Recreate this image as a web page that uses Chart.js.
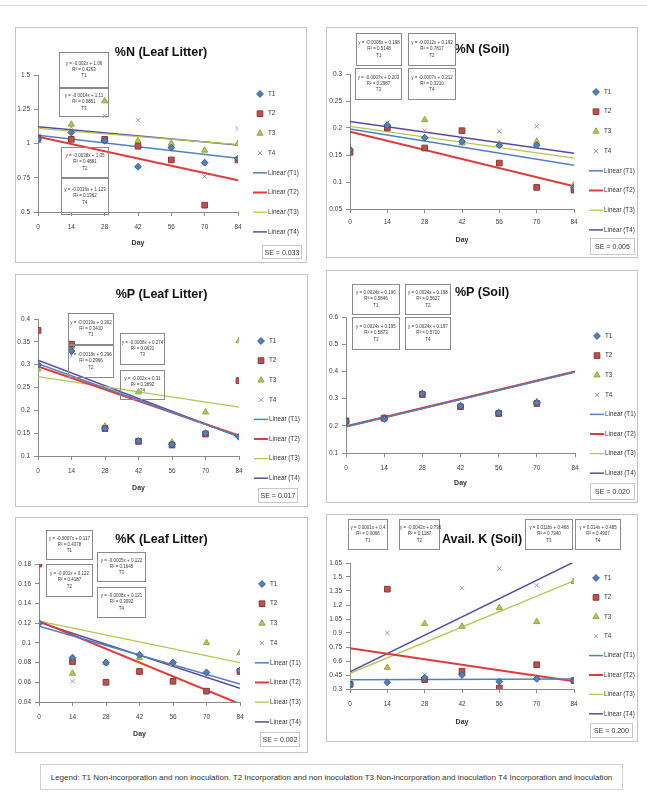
<!DOCTYPE html>
<html>
<head>
<meta charset="utf-8">
<title>Nutrient dynamics by treatment</title>
<script src="https://cdn.jsdelivr.net/npm/chart.js@4.4.1/dist/chart.umd.min.js"></script>
<style>
  html, body { margin:0; padding:0; background:#fff; }
  body { width:647px; height:801px; position:relative; overflow:hidden;
         font-family:'Liberation Sans',Arial,sans-serif; }
  .rule { position:absolute; left:0; top:5px; width:647px; height:1px; background:#dedede; }
  .panel { position:absolute; box-sizing:border-box; border:1px solid #c4c4c4; background:#fff; }
  canvas { position:absolute; }
  .eq { position:absolute; box-sizing:border-box; border:1px solid #8a8a8a; font-size:4.5px; line-height:1.35;
        color:#3a3a3a; text-align:center; display:flex; flex-direction:column; justify-content:center; white-space:nowrap; }
  .se { position:absolute; box-sizing:border-box; border:1px solid #c8c8c8; font-size:7px; color:#333;
        display:flex; align-items:center; justify-content:center; white-space:nowrap; }
  .note { position:absolute; left:40px; top:764px; width:583px; height:26px; box-sizing:border-box; border:1px solid #d0d0d0;
          font-size:8px; color:#333; display:flex; align-items:center; justify-content:center; white-space:nowrap; }
</style>
</head>
<body>
<div class="rule"></div>
<div id="fig"></div>
<div class="note" id="note"></div>
<script>
const FONT = "'Liberation Sans', Arial, sans-serif";

// sampling days shared by every panel
const days = [0, 14, 28, 42, 56, 70, 84];
const seriesNames = ['T1', 'T2', 'T3', 'T4'];

// %N (Leaf Litter)
const nLeafT1 = [1.03, 1.08, 1.02, 0.83, 0.97, 0.86, 0.89];
const nLeafT2 = [1.04, 1.03, 1.03, 0.98, 0.88, 0.55, 0.88];
const nLeafT3 = [1.02, 1.14, 1.31, 1.02, 1.00, 0.95, 1.00];
const nLeafT4 = [1.05, 1.12, 1.20, 1.17, 1.00, 0.76, 1.11];
const nLeafSlope = [-0.002, -0.0038, -0.0014, -0.0016];
const nLeafIntercept = [1.06, 1.05, 1.11, 1.123];
const nLeafR2 = [0.4263, 0.4881, 0.0851, 0.1362];
const nLeafTicks = [0.5, 0.75, 1, 1.25, 1.5];
const nLeafSE = 'SE = 0.033';

// %N (Soil)
const nSoilT1 = [0.160, 0.205, 0.182, 0.175, 0.168, 0.168, 0.090];
const nSoilT2 = [0.155, 0.200, 0.163, 0.195, 0.135, 0.090, 0.085];
const nSoilT3 = [0.160, 0.205, 0.215, 0.172, 0.170, 0.175, 0.095];
const nSoilT4 = [0.160, 0.210, 0.195, 0.195, 0.194, 0.203, 0.092];
const nSoilSlope = [-0.0008, -0.0012, -0.0007, -0.0007];
const nSoilIntercept = [0.198, 0.193, 0.203, 0.212];
const nSoilR2 = [0.5148, 0.7817, 0.2987, 0.3210];
const nSoilTicks = [0.05, 0.1, 0.15, 0.2, 0.25, 0.3];
const nSoilSE = 'SE = 0.005';

// %P (Leaf Litter)
const pLeafT1 = [0.300, 0.330, 0.160, 0.133, 0.125, 0.150, 0.142];
const pLeafT2 = [0.375, 0.345, 0.160, 0.132, 0.124, 0.148, 0.265];
const pLeafT3 = [0.290, 0.340, 0.165, 0.240, 0.130, 0.196, 0.352];
const pLeafT4 = [0.300, 0.338, 0.158, 0.135, 0.126, 0.152, 0.140];
const pLeafSlope = [-0.0019, -0.0018, -0.0008, -0.002];
const pLeafIntercept = [0.302, 0.296, 0.274, 0.31];
const pLeafR2 = [0.3410, 0.2966, 0.0631, 0.3892];
const pLeafTicks = [0.1, 0.15, 0.2, 0.25, 0.3, 0.35, 0.4];
const pLeafSE = 'SE = 0.017';

// %P (Soil)
const pSoilT1 = [0.215, 0.225, 0.318, 0.273, 0.247, 0.285, 0.623];
const pSoilT2 = [0.218, 0.228, 0.315, 0.270, 0.245, 0.282, 0.620];
const pSoilT3 = [0.212, 0.230, 0.320, 0.275, 0.250, 0.288, 0.625];
const pSoilT4 = [0.220, 0.226, 0.316, 0.272, 0.248, 0.284, 0.622];
const pSoilSlope = [0.0024, 0.0024, 0.0024, 0.0024];
const pSoilIntercept = [0.196, 0.198, 0.195, 0.197];
const pSoilR2 = [0.5846, 0.5627, 0.5873, 0.5720];
const pSoilTicks = [0.1, 0.2, 0.3, 0.4, 0.5, 0.6];
const pSoilSE = 'SE = 0.020';

// %K (Leaf Litter)
const kLeafT1 = [0.120, 0.085, 0.080, 0.088, 0.080, 0.070, 0.072];
const kLeafT2 = [0.180, 0.081, 0.060, 0.071, 0.061, 0.051, 0.071];
const kLeafT3 = [0.121, 0.069, 0.080, 0.085, 0.079, 0.100, 0.090];
const kLeafT4 = [0.119, 0.061, 0.078, 0.087, 0.078, 0.068, 0.069];
const kLeafSlope = [-0.0007, -0.001, -0.0005, -0.0008];
const kLeafIntercept = [0.117, 0.122, 0.122, 0.121];
const kLeafR2 = [0.4378, 0.4187, 0.1645, 0.3092];
const kLeafTicks = [0.04, 0.06, 0.08, 0.1, 0.12, 0.14, 0.16, 0.18];
const kLeafSE = 'SE = 0.002';

// Avail. K (Soil)
const kSoilT1 = [0.35, 0.37, 0.42, 0.45, 0.38, 0.41, 0.39];
const kSoilT2 = [0.35, 1.37, 0.40, 0.49, 0.31, 0.56, 0.39];
const kSoilT3 = [0.38, 0.53, 1.00, 0.97, 1.17, 1.02, 1.45];
const kSoilT4 = [0.36, 0.90, 0.45, 1.38, 1.59, 1.41, 1.47];
const kSoilSlope = [0.0001, -0.0042, 0.0118, 0.014];
const kSoilIntercept = [0.4, 0.736, 0.468, 0.485];
const kSoilR2 = [0.0066, 0.1187, 0.7340, 0.4907];
const kSoilTicks = [0.3, 0.45, 0.6, 0.75, 0.9, 1.05, 1.2, 1.35, 1.5, 1.65];
const kSoilSE = 'SE = 0.200';

const legendNote = 'Legend: T1 Non-incorporation  and non inoculation.  T2 Incorporation  and non inoculation T3 Non-incorporation  and inoculation  T4 Incorporation  and inoculation';

const panels = [
  { title: '%N (Leaf Litter)', series: [nLeafT1, nLeafT2, nLeafT3, nLeafT4], slope: nLeafSlope, intercept: nLeafIntercept, r2: nLeafR2, ticks: nLeafTicks, se: nLeafSE },
  { title: '%N (Soil)',        series: [nSoilT1, nSoilT2, nSoilT3, nSoilT4], slope: nSoilSlope, intercept: nSoilIntercept, r2: nSoilR2, ticks: nSoilTicks, se: nSoilSE },
  { title: '%P (Leaf Litter)', series: [pLeafT1, pLeafT2, pLeafT3, pLeafT4], slope: pLeafSlope, intercept: pLeafIntercept, r2: pLeafR2, ticks: pLeafTicks, se: pLeafSE },
  { title: '%P (Soil)',        series: [pSoilT1, pSoilT2, pSoilT3, pSoilT4], slope: pSoilSlope, intercept: pSoilIntercept, r2: pSoilR2, ticks: pSoilTicks, se: pSoilSE },
  { title: '%K (Leaf Litter)', series: [kLeafT1, kLeafT2, kLeafT3, kLeafT4], slope: kLeafSlope, intercept: kLeafIntercept, r2: kLeafR2, ticks: kLeafTicks, se: kLeafSE },
  { title: 'Avail. K (Soil)',  series: [kSoilT1, kSoilT2, kSoilT3, kSoilT4], slope: kSoilSlope, intercept: kSoilIntercept, r2: kSoilR2, ticks: kSoilTicks, se: kSoilSE },
];

// page geometry of each panel: frame box, plot area, title / axis-title centres, label boxes
const layouts = [
  { box: [15, 27, 292, 236], area: [38, 75, 238, 212], titleC: 53, dayC: 243, tickPad: 7, legendTop: 19, legendStep: 19.7,
    eq: [[59, 52, 50, 36, 0], [59, 88, 50, 29, 2], [61, 147, 48, 31, 1], [61, 178, 48, 37, 3]], se: [262, 245, 40, 14] },
  { box: [326, 27, 312, 231], area: [350, 74, 574, 209], titleC: 50, dayC: 240, tickPad: 5, legendTop: 18, legendStep: 19.7,
    eq: [[356, 33, 46, 33, 0], [408, 33, 48, 33, 1], [355, 68, 47, 32, 2], [408, 68, 48, 32, 3]], se: [590, 238, 45, 17] },
  { box: [15, 274, 293, 233], area: [38, 319, 239, 456], titleC: 295, dayC: 488, tickPad: 7, legendTop: 22, legendStep: 19.6,
    eq: [[68, 313, 46, 32, 0], [68, 345, 46, 33, 1], [120, 333, 45, 32, 2], [120, 370, 45, 30, 3]], se: [258, 488, 40, 15] },
  { box: [326, 270, 312, 233], area: [346, 317, 575, 453], titleC: 293, dayC: 483, tickPad: 7, legendTop: 19, legendStep: 19.6,
    eq: [[352, 284, 48, 31, 0], [405, 284, 46, 31, 1], [352, 317, 48, 33, 2], [405, 317, 46, 33, 3]], se: [590, 483, 45, 17] },
  { box: [15, 517, 293, 236], area: [39, 564, 240, 702], titleC: 540, dayC: 734, tickPad: 7, legendTop: 20, legendStep: 19.7,
    eq: [[46, 530, 47, 30, 0], [46, 564, 47, 33, 1], [97, 552, 49, 30, 2], [97, 587, 49, 31, 3]], se: [260, 732, 40, 15] },
  { box: [326, 514, 312, 228], area: [350, 563, 574, 689], titleC: 540, dayC: 722, tickPad: 7, legendTop: 15, legendStep: 19.4,
    eq: [[348, 519, 40, 31, 0], [399, 519, 41, 31, 1], [525, 519, 48, 31, 2], [575, 519, 46, 31, 3]], se: [590, 723, 43, 15] },
];

const markerStyle = [
  { point: 'rectRot',  radius: 3.4, fill: '#4F81BD', edge: '#385D8A' },
  { point: 'rect',     radius: 4.0, fill: '#C0504D', edge: '#8C3836' },
  { point: 'triangle', radius: 3.6, fill: '#B4C65A', edge: '#93A642' },
  { point: 'crossRot', radius: 3.0, fill: '#A08CC6', edge: '#A08CC6' },
];
const trendStyle = [
  { color: '#4F81BD', width: 1.5 },
  { color: '#E03A3A', width: 2 },
  { color: '#B2C650', width: 1.3 },
  { color: '#574C9C', width: 1.5 },
];

// legend column drawn to the right of the plot area
const sideLegend = {
  id: 'sideLegend',
  afterDraw(chart, args, o) {
    const { ctx, chartArea } = chart;
    const sx = chartArea.right + o.sym, tx = chartArea.right + o.text;
    ctx.save();
    ctx.font = o.size + 'px ' + FONT;
    ctx.textBaseline = 'middle';
    ctx.textAlign = 'left';
    chart.data.datasets.forEach((ds, i) => {
      const y = chartArea.top + o.top + i * o.step;
      ctx.lineWidth = ds.borderWidth;
      ctx.strokeStyle = ds.borderColor;
      ctx.fillStyle = ds.backgroundColor || ds.borderColor;
      if (ds.type === 'line') {
        ctx.beginPath(); ctx.moveTo(sx - 7, y); ctx.lineTo(sx + 7, y); ctx.stroke();
      } else {
        Chart.helpers.drawPoint(ctx, { pointStyle: ds.pointStyle, radius: ds.pointRadius, borderWidth: ds.borderWidth, rotation: 0 }, sx, y);
      }
      ctx.fillStyle = '#333';
      ctx.fillText(ds.label, tx, y);
    });
    ctx.restore();
  }
};
Chart.register(sideLegend);
Chart.defaults.font.family = FONT;

const num = v => String(+v.toFixed(4));
const eqText = (m, b) => 'y = ' + num(m) + 'x ' + (b < 0 ? '- ' : '+ ') + num(Math.abs(b));

const fig = document.getElementById('fig');

function place(el, x, y, w, h) {
  el.style.left = x + 'px'; el.style.top = y + 'px';
  el.style.width = w + 'px'; el.style.height = h + 'px';
}

function makePanel(p, L) {
  const [bx, by, bw, bh] = L.box;
  const [al, at, ar, ab] = L.area;

  const frame = document.createElement('div');
  frame.className = 'panel';
  place(frame, bx, by, bw, bh);
  fig.appendChild(frame);

  const cv = document.createElement('canvas');
  cv.width = bw; cv.height = bh;
  place(cv, bx, by, bw, bh);
  fig.appendChild(cv);

  const titleSize = 12.5, titleLH = titleSize * 1.2;
  const tpt = L.titleC - by - titleLH / 2;
  const tpb = (at - by) - tpt - titleLH;
  const dayLH = 7 * 1.2;
  const xh = L.dayC - ab + dayLH / 2;
  const padB = bh - (ab - by) - xh;
  const yw = al - bx;
  const rw = (bx + bw) - ar;

  const datasets = [];
  p.series.forEach((vals, i) => {
    const s = markerStyle[i];
    datasets.push({
      type: 'scatter', label: seriesNames[i],
      data: days.map((d, k) => ({ x: d, y: vals[k] })),
      pointStyle: s.point, pointRadius: s.radius,
      backgroundColor: s.fill, borderColor: s.edge, borderWidth: 1, order: 0
    });
  });
  p.slope.forEach((m, i) => {
    const t = trendStyle[i];
    datasets.push({
      type: 'line', label: 'Linear (' + seriesNames[i] + ')',
      data: [days[0], days[days.length - 1]].map(d => ({ x: d, y: p.intercept[i] + m * d })),
      borderColor: t.color, backgroundColor: t.color, borderWidth: t.width,
      pointRadius: 0, fill: false, order: 1
    });
  });

  const axisColor = '#8a8a8a';
  new Chart(cv, {
    type: 'scatter',
    data: { datasets },
    options: {
      responsive: false, animation: false, devicePixelRatio: 1,
      layout: { padding: { left: 0, top: 0, right: 0, bottom: padB } },
      plugins: {
        legend: { display: false },
        tooltip: { enabled: false },
        title: { display: true, text: p.title, color: '#111', font: { family: FONT, size: titleSize, weight: 'bold' },
                 padding: { top: tpt, bottom: tpb } },
        sideLegend: { top: L.legendTop, step: L.legendStep, sym: 22, text: 30, size: 6.3 }
      },
      scales: {
        x: {
          type: 'linear', min: days[0], max: days[days.length - 1],
          afterBuildTicks: s => { s.ticks = days.map(v => ({ value: v })); },
          afterFit: s => { s.height = xh; },
          ticks: { font: { size: 6.5 }, color: '#404040', padding: L.tickPad, maxRotation: 0, autoSkip: false },
          grid: { drawOnChartArea: false, drawTicks: true, tickLength: 4, color: axisColor },
          border: { color: axisColor },
          title: { display: true, text: 'Day', color: '#333', font: { size: 7, weight: 'bold' }, padding: { top: 0, bottom: 0 } }
        },
        y: {
          type: 'linear', position: 'left', min: p.ticks[0], max: p.ticks[p.ticks.length - 1],
          afterBuildTicks: s => { s.ticks = p.ticks.map(v => ({ value: v })); },
          afterFit: s => { s.width = yw; },
          ticks: { font: { size: 6.5 }, color: '#404040', padding: 4, autoSkip: false, callback: v => String(v) },
          grid: { drawOnChartArea: false, drawTicks: true, tickLength: 4, color: axisColor },
          border: { color: axisColor }
        },
        side: {
          type: 'linear', position: 'right', display: true,
          grid: { display: false }, border: { display: false }, ticks: { display: false },
          afterFit: s => { s.width = rw; }
        }
      }
    }
  });

  L.eq.forEach(([x, y, w, h, i]) => {
    const d = document.createElement('div');
    d.className = 'eq';
    place(d, x, y, w, h);
    [eqText(p.slope[i], p.intercept[i]), 'R² = ' + p.r2[i].toFixed(4), seriesNames[i]].forEach(t => {
      const line = document.createElement('div');
      line.textContent = t;
      d.appendChild(line);
    });
    fig.appendChild(d);
  });

  const se = document.createElement('div');
  se.className = 'se';
  place(se, L.se[0], L.se[1], L.se[2], L.se[3]);
  se.textContent = p.se;
  fig.appendChild(se);
}

panels.forEach((p, i) => makePanel(p, layouts[i]));
document.getElementById('note').textContent = legendNote;
</script>
</body>
</html>
